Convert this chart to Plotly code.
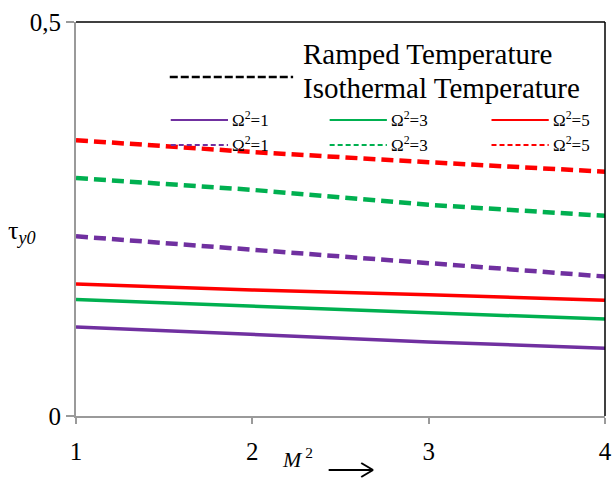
import plotly.graph_objects as go

M2 = [1, 2, 3, 4]
omega_labels = ["Ω<sup>2</sup>=1", "Ω<sup>2</sup>=3", "Ω<sup>2</sup>=5"]
colors = ["#7030A0", "#00B050", "#FF0000"]
ramped = [
    [0.113, 0.103, 0.094, 0.086],
    [0.148, 0.139, 0.131, 0.123],
    [0.1675, 0.160, 0.154, 0.147],
]
isothermal = [
    [0.228, 0.211, 0.193, 0.177],
    [0.302, 0.287, 0.268, 0.254],
    [0.350, 0.335, 0.322, 0.310],
]
y_ticks = [0, 0.5]
y_ticktext = ["0", "0,5"]
x_ticks = [1, 2, 3, 4]

SERIF = "'Liberation Serif', 'DejaVu Serif', serif"

fig = go.Figure()
for c, ys in zip(colors, isothermal):
    fig.add_trace(go.Scatter(x=M2, y=ys, mode="lines", showlegend=False,
                             line=dict(color=c, width=4.5, dash="12px,6px")))
for c, ys in zip(colors, ramped):
    fig.add_trace(go.Scatter(x=M2, y=ys, mode="lines", showlegend=False,
                             line=dict(color=c, width=3.5)))

W, H = 616, 480
L, R, T, B = 76, 4, 22, 64
pw, ph = W - L - R, H - T - B

def px(x):
    return (x - L) / pw

def py(y):
    return (H - B - y) / ph

shapes = []
annotations = []
# top and right border
shapes.append(dict(type="line", xref="paper", yref="paper", x0=0, x1=1, y0=1, y1=1,
                   line=dict(color="black", width=1.5)))
shapes.append(dict(type="line", xref="paper", yref="paper", x0=1, x1=1, y0=0, y1=1,
                   line=dict(color="black", width=1.5)))

# custom legend: header
annotations.append(dict(xref="paper", yref="paper", x=px(304), y=py(54), xanchor="left",
                        yanchor="middle", showarrow=False, text="Ramped Temperature",
                        font=dict(family=SERIF, size=29, color="black")))
annotations.append(dict(xref="paper", yref="paper", x=px(304), y=py(88), xanchor="left",
                        yanchor="middle", showarrow=False, text="Isothermal Temperature",
                        font=dict(family=SERIF, size=29, color="black")))
shapes.append(dict(type="line", xref="paper", yref="paper", x0=px(171), x1=px(296),
                   y0=py(77), y1=py(77), line=dict(color="black", width=2.5, dash="8px,3px")))

col_x = [172, 333, 497]
for i, (c, lab) in enumerate(zip(colors, omega_labels)):
    x0 = col_x[i]
    for row_y, dash in [(120, "solid"), (145, "5px,3px")]:
        shapes.append(dict(type="line", xref="paper", yref="paper", x0=px(x0), x1=px(x0 + 58),
                           y0=py(row_y), y1=py(row_y), line=dict(color=c, width=2, dash=dash)))
        annotations.append(dict(xref="paper", yref="paper", x=px(x0 + 60), y=py(row_y - 1),
                                xanchor="left", yanchor="middle", showarrow=False, text=lab,
                                font=dict(family=SERIF, size=17, color="black")))

# axis titles
annotations.append(dict(xref="paper", yref="paper", x=px(5), y=py(232), xanchor="left",
                        yanchor="middle", showarrow=False,
                        text="τ<sub><i>y0</i></sub>",
                        font=dict(family=SERIF, size=26, color="black")))
annotations.append(dict(xref="paper", yref="paper", x=px(283), y=py(458), xanchor="left",
                        yanchor="middle", showarrow=False,
                        text="<i>M</i><sup> 2</sup>",
                        font=dict(family=SERIF, size=22, color="black")))
# arrow (decoration)
ay = py(470)
shapes.append(dict(type="line", xref="paper", yref="paper", x0=px(332), x1=px(377),
                   y0=ay, y1=ay, line=dict(color="black", width=2)))
shapes.append(dict(type="line", xref="paper", yref="paper", x0=px(365), x1=px(377),
                   y0=py(463), y1=ay, line=dict(color="black", width=2)))
shapes.append(dict(type="line", xref="paper", yref="paper", x0=px(365), x1=px(377),
                   y0=py(477), y1=ay, line=dict(color="black", width=2)))

fig.update_layout(
    width=W, height=H,
    margin=dict(l=L, r=R, t=T, b=B),
    paper_bgcolor="white", plot_bgcolor="white",
    showlegend=False,
    shapes=shapes, annotations=annotations,
    xaxis=dict(range=[1, 4], tickvals=x_ticks, showgrid=False, zeroline=False,
               showline=True, linecolor="#9A9A9A", linewidth=2,
               ticks="outside", ticklen=6, tickwidth=2, tickcolor="#9A9A9A",
               ticklabeloverflow="allow",
               tickfont=dict(family=SERIF, size=25, color="black"), ticklabelstandoff=6),
    yaxis=dict(range=[0, 0.5], tickvals=y_ticks, ticktext=y_ticktext, showgrid=False,
               zeroline=False, showline=True, linecolor="#9A9A9A", linewidth=2,
               ticks="outside", ticklen=8, tickwidth=2, tickcolor="#9A9A9A",
               ticklabeloverflow="allow",
               tickfont=dict(family=SERIF, size=25, color="black")),
)

fig.write_html("out.html")
